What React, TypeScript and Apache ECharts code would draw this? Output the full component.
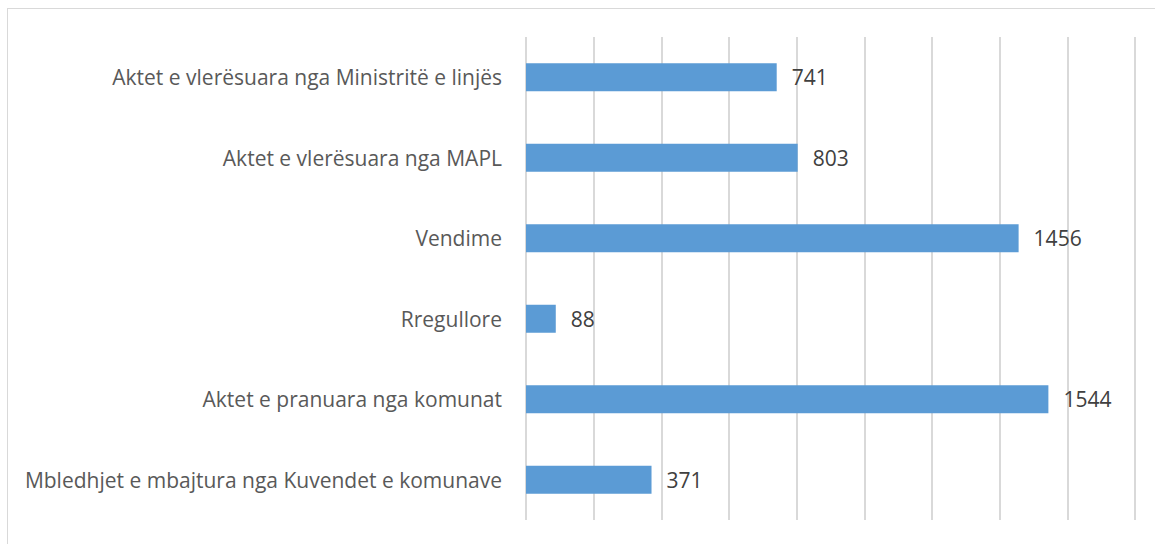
import React, { useEffect, useRef } from "react";
import * as echarts from "echarts";

const categories = [
  "Mbledhjet e mbajtura nga Kuvendet e komunave",
  "Aktet e pranuara nga komunat",
  "Rregullore",
  "Vendime",
  "Aktet e vlerësuara nga MAPL",
  "Aktet e vlerësuara nga Ministritë e linjës",
];
const values = [371, 1544, 88, 1456, 803, 741];
const axisMin = 0;
const axisMax = 1800;
const axisInterval = 200;

export default function App() {
  const ref = useRef<HTMLDivElement>(null);
  useEffect(() => {
    if (!ref.current) return;
    const chart = echarts.init(ref.current, undefined, { renderer: "svg" });
    chart.setOption({
      animation: false,
      grid: { left: 518, right: 20, top: 28, bottom: 24, containLabel: false },
      xAxis: {
        type: "value",
        min: axisMin,
        max: axisMax,
        interval: axisInterval,
        axisLabel: { show: false },
        axisLine: { show: false },
        axisTick: { show: false },
        splitLine: { show: true, lineStyle: { color: "#d9d9d9", width: 2 } },
      },
      yAxis: {
        type: "category",
        data: categories,
        axisLine: { show: false },
        axisTick: { show: false },
        axisLabel: {
          margin: 24,
          color: "#595959",
          fontSize: 21,
          fontFamily: "Open Sans",
        },
      },
      series: [
        {
          type: "bar",
          data: values,
          barWidth: 28,
          itemStyle: { color: "#5b9bd5" },
          label: {
            show: true,
            position: "right",
            distance: 15,
            color: "#404040",
            fontSize: 21,
            fontFamily: "Open Sans",
          },
        },
      ],
    });
    return () => chart.dispose();
  }, []);
  return (
    <div
      style={{
        position: "absolute",
        left: 7,
        top: 8,
        width: 1148,
        height: 536,
        borderTop: "1px solid #d9d9d9",
        borderLeft: "1px solid #d9d9d9",
        boxSizing: "border-box",
        background: "#fff",
      }}
    >
      <div ref={ref} style={{ width: 1147, height: 535 }} />
    </div>
  );
}
